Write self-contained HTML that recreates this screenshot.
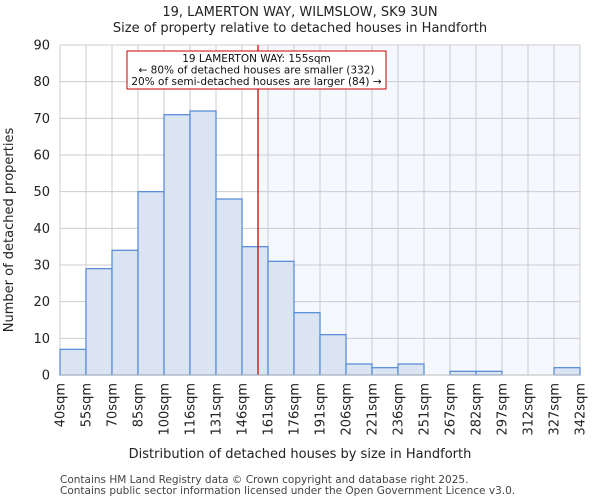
<!DOCTYPE html>
<html><head><meta charset="utf-8"><style>
body{margin:0;background:#fff;}
svg{font-family:"DejaVu Sans","Liberation Sans",sans-serif;display:block}
</style></head><body>
<svg id="c" width="600" height="500"></svg>
<script>
const binEdges=["40sqm","55sqm","70sqm","85sqm","100sqm","116sqm","131sqm","146sqm","161sqm","176sqm","191sqm","206sqm","221sqm","236sqm","251sqm","267sqm","282sqm","297sqm","312sqm","327sqm","342sqm"];
const counts=[7,29,34,50,71,72,48,35,31,17,11,3,2,3,0,1,1,0,0,2];
const yTicks=[0,10,20,30,40,50,60,70,80,90];
const markerBin=7.615;
const L=60,R=580,T=45,B=375,yMax=90;
const bw=(R-L)/counts.length;
const xs=i=>L+i*bw;
const ys=v=>B-(v/yMax)*(B-T);
const svg=document.getElementById('c');
const NS='http://www.w3.org/2000/svg';
function mk(tag,a,txt){const e=document.createElementNS(NS,tag);for(const k in a)e.setAttribute(k,a[k]);if(txt!==undefined)e.textContent=txt;svg.appendChild(e);return e;}
const mx=xs(markerBin);
let e=mk('rect',{x:mx,y:T,width:R-mx,height:B-T,fill:'#f5f8fe'});


yTicks.forEach(v=>{
 let g=mk('line',{x1:L,x2:R,y1:ys(v),y2:ys(v),stroke:'#cccccc','stroke-width':1});
 
 
 let t=mk('text',{x:L-10,y:ys(v)+4.5,'text-anchor':'end','font-size':13,fill:'#222'},v);
 
 
});
binEdges.forEach((s,i)=>{
 let g=mk('line',{x1:xs(i),x2:xs(i),y1:T,y2:B,stroke:'#cccccc','stroke-width':1});
 
 
 let x=xs(i)+4.5,y=B+8;
 let t=mk('text',{x:x,y:y,'text-anchor':'end','font-size':13,fill:'#222',transform:`rotate(-90 ${x} ${y})`},s);
 
 
});
counts.forEach((v,i)=>{
 if(v<=0)return;
 let b=mk('rect',{x:xs(i),y:ys(v),width:bw,height:B-ys(v),fill:'#dae4f3',stroke:'#5a8fd8','stroke-width':1.3});
 
 
});
e=mk('line',{x1:mx,x2:mx,y1:T,y2:B,stroke:'#dd0000','stroke-width':1.3});


e=mk('line',{x1:L,x2:R,y1:B,y2:B,stroke:'#bbbbbb','stroke-width':1});


e=mk('rect',{x:127,y:51,width:259,height:38,fill:'#fff',stroke:'#cc0000','stroke-width':1});


["19 LAMERTON WAY: 155sqm","← 80% of detached houses are smaller (332)","20% of semi-detached houses are larger (84) →"].forEach((s,i)=>{
 let t=mk('text',{x:256.5,y:62+i*11.5,'text-anchor':'middle','font-size':10.5,fill:'#111'},s);
 
 
});
e=mk('text',{x:300,y:16,'text-anchor':'middle','font-size':13,fill:'#222'},"19, LAMERTON WAY, WILMSLOW, SK9 3UN");


e=mk('text',{x:300,y:32,'text-anchor':'middle','font-size':13,fill:'#222'},"Size of property relative to detached houses in Handforth");


e=mk('text',{x:300,y:458,'text-anchor':'middle','font-size':13,fill:'#222'},"Distribution of detached houses by size in Handforth");


e=mk('text',{x:13,y:230,'text-anchor':'middle','font-size':13,fill:'#222',transform:'rotate(-90 13 230)'},"Number of detached properties");


e=mk('text',{x:60,y:483,'font-size':10.5,fill:'#444'},"Contains HM Land Registry data © Crown copyright and database right 2025.");


e=mk('text',{x:60,y:494,'font-size':10.5,fill:'#444'},"Contains public sector information licensed under the Open Government Licence v3.0.");


</script>
</body></html>
